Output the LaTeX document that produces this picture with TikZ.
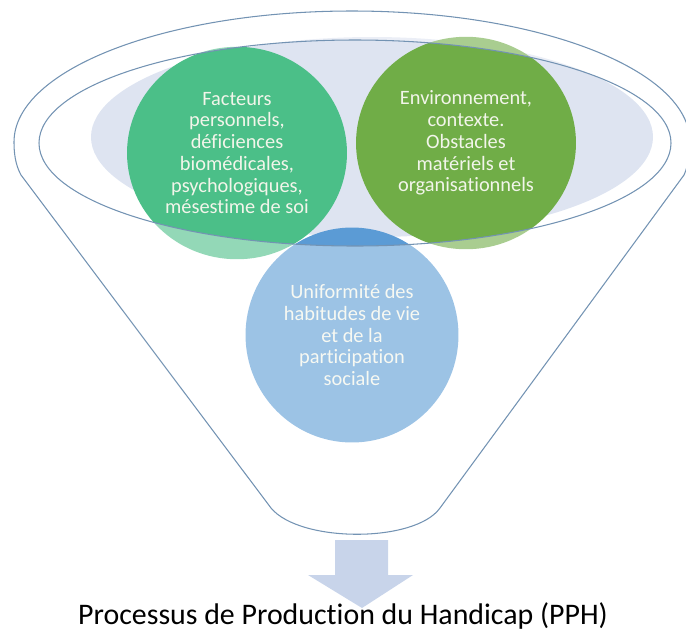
\documentclass[tikz,border=0pt]{standalone}
\usepackage{fontspec}
\setmainfont{Carlito}[Ligatures=NoCommon]
\usetikzlibrary{shapes.geometric}

\definecolor{persogreen}{HTML}{4BBF88}
\definecolor{envirgreen}{HTML}{70AD47}
\definecolor{habitblue}{HTML}{5B9BD5}
\definecolor{lavender}{HTML}{DEE4F1}
\definecolor{funnelline}{HTML}{7393B3}
\definecolor{arrowblue}{HTML}{C8D4EA}
\definecolor{bubbletext}{HTML}{F2F5EA}

\begin{document}
\begin{tikzpicture}[x=0.02cm,y=-0.02cm,
    bubble/.style={ellipse,inner sep=0pt,minimum width=4.4cm,minimum height=4.25cm,
      align=center,text=bubbletext,font=\fontsize{11.6}{12.4}\selectfont},
    rim/.style={draw=funnelline,line width=0.6pt}]
  \useasboundingbox (0,0) rectangle (686,633);
  \clip (0,0) rectangle (686,633);
  % opening of the funnel
  \fill[lavender] (372,137) ellipse[x radius=281,y radius=100];
  % the three factors
  \node[bubble,fill=persogreen] (perso) at (237,153)
    {Facteurs\\personnels,\\déficiences\\biomédicales,\\psychologiques,\\mésestime de soi};
  \node[bubble,fill=envirgreen] (envir) at (466,143)
    {Environnement,\\contexte.\\Obstacles\\matériels et\\organisationnels};
  \node[bubble,fill=habitblue,minimum width=4.26cm,minimum height=4.3cm] (habit) at (352,335)
    {Uniformité des\\habitudes de vie\\et de la\\participation\\sociale};
  % funnel body, see-through, with the opening left out
  \fill[white,fill opacity=0.4,even odd rule]
    (271,508) -- (21,175) .. controls (15,164) and (14,152) .. (14,142)
    arc[start angle=180,end angle=360,x radius=338,y radius=131]
    .. controls (690,152) and (689,164) .. (684,175) -- (440,508)
    .. controls (415,543) and (300,543) .. (271,508) -- cycle
    (355,143) ellipse[x radius=316,y radius=103];
  \draw[rim] (271,508) -- (21,175) .. controls (15,164) and (14,152) .. (14,142)
    arc[start angle=180,end angle=360,x radius=338,y radius=131]
    .. controls (690,152) and (689,164) .. (684,175) -- (440,508)
    .. controls (415,543) and (300,543) .. (271,508);
  \draw[rim] (355,143) ellipse[x radius=316,y radius=103];
  % result
  \node[font=\fontsize{17}{20}\selectfont] (pph) at (343,616)
    {Processus de Production du Handicap (PPH)};
  \fill[arrowblue] (335,540) -- (388,540) -- (388,575) -- (413,575) -- (362,608)
    -- (308,575) -- (335,575) -- cycle;
\end{tikzpicture}
\end{document}
